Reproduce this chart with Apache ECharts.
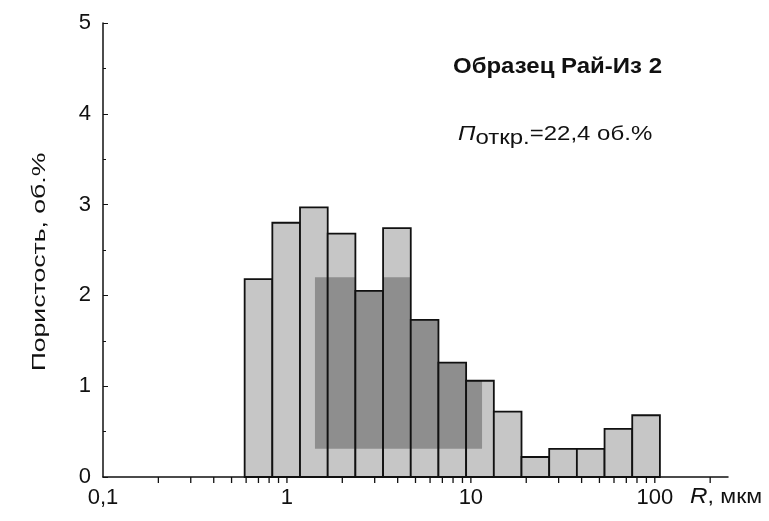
<!DOCTYPE html>
<html>
<head>
<meta charset="utf-8">
<script src="https://cdn.jsdelivr.net/npm/echarts@6/dist/echarts.min.js"></script>
<style>
  html, body { margin: 0; padding: 0; background: #fff; }
  #chart { width: 769px; height: 521px; }
</style>
</head>
<body>
<div id="chart"></div>
<script>
// границы классов по радиусу пор, мкм (лог. шкала)
const binLeft  = [0.589, 0.833, 1.178, 1.666, 2.356, 3.332, 4.712, 6.664, 9.424, 13.33, 18.85, 26.66, 37.70, 53.31, 75.39];
const binRight = [0.833, 1.178, 1.666, 2.356, 3.332, 4.712, 6.664, 9.424, 13.33, 18.85, 26.66, 37.70, 53.31, 75.39, 106.6];
// пористость, об.%
const porosity = [2.18, 2.80, 2.97, 2.68, 2.05, 2.74, 1.73, 1.26, 1.06, 0.72, 0.22, 0.31, 0.31, 0.53, 0.68];

// подписи и засечки оси X
const xMajorTicks = [0.1, 1, 10, 100];
const xMinorTicks = [0.2, 0.3, 0.4, 0.5, 0.6, 0.7, 0.8, 0.9,
                     2, 3, 4, 5, 6, 7, 8, 9,
                     20, 30, 40, 50, 60, 70, 80, 90, 200];

const FONT = 'Liberation Sans';
const lightFill = '#c6c6c6';
const darkFill = '#8e8e8e';
// тёмная зона растра на исходном рисунке
const darkZone = { x0: 1.42, x1: 11.5, y0: 0.31, y1: 2.2 };

const chart = echarts.init(document.getElementById('chart'));

const barData = binLeft.map((l, i) => [l, binRight[i], porosity[i]]);
const tickData = xMajorTicks.slice(1).map(v => [v, 0]).concat(xMinorTicks.map(v => [v, 0]));

const option = {
  backgroundColor: '#fff',
  animation: false,
  grid: { left: 103, right: 41, top: 23, bottom: 44 },
  xAxis: {
    type: 'log',
    logBase: 10,
    min: 0.1,
    max: 250,
    axisLine: { lineStyle: { color: '#111', width: 1.5 } },
    axisTick: { show: false },
    splitLine: { show: false },
    axisLabel: {
      color: '#111',
      fontSize: 22,
      fontFamily: FONT,
      margin: 10,
      showMaxLabel: false,
      formatter: v => xMajorTicks.some(t => Math.abs(t - v) < 1e-9) ? String(v).replace('.', ',') : ''
    }
  },
  yAxis: {
    type: 'value',
    min: 0,
    max: 5,
    interval: 1,
    axisLine: { show: true, lineStyle: { color: '#111', width: 1.5 } },
    axisTick: { show: true, inside: true, length: 5, lineStyle: { color: '#111' } },
    minorTick: { show: true, splitNumber: 2, length: 3, lineStyle: { color: '#111' } },
    splitLine: { show: false },
    axisLabel: { color: '#111', fontSize: 22, fontFamily: FONT, margin: 12 }
  },
  series: [
    {
      type: 'custom',
      data: barData,
      encode: { x: [0, 1], y: 2 },
      renderItem: (params, api) => {
        const x0 = api.value(0), x1 = api.value(1), v = api.value(2);
        const p0 = api.coord([x0, 0]);
        const p1 = api.coord([x1, v]);
        const children = [{
          type: 'rect',
          shape: { x: p0[0], y: p1[1], width: p1[0] - p0[0], height: p0[1] - p1[1] },
          style: { fill: lightFill, stroke: 'none' }
        }];
        // пересечение столбца с тёмной зоной
        const zx0 = Math.max(x0, darkZone.x0), zx1 = Math.min(x1, darkZone.x1);
        const zy1 = Math.min(v, darkZone.y1);
        if (zx1 > zx0 && zy1 > darkZone.y0) {
          const a = api.coord([zx0, darkZone.y0]);
          const b = api.coord([zx1, zy1]);
          children.push({
            type: 'rect',
            shape: { x: a[0], y: b[1], width: b[0] - a[0], height: a[1] - b[1] },
            style: { fill: darkFill, stroke: 'none' }
          });
        }
        children.push({
          type: 'rect',
          shape: { x: p0[0], y: p1[1], width: p1[0] - p0[0], height: p0[1] - p1[1] },
          style: { fill: 'none', stroke: '#111', lineWidth: 1.8 }
        });
        return { type: 'group', children };
      }
    },
    {
      type: 'custom',
      data: tickData,
      encode: { x: 0, y: 1 },
      clip: false,
      silent: true,
      renderItem: (params, api) => {
        const p = api.coord([api.value(0), 0]);
        return {
          type: 'line',
          shape: { x1: p[0], y1: p[1], x2: p[0], y2: p[1] + 6 },
          style: { stroke: '#111', lineWidth: 1.3 }
        };
      }
    }
  ],
  graphic: [
    {
      type: 'text',
      x: 40,
      y: 262,
      rotation: Math.PI / 2,
      scaleX: 1.4,
      style: {
        text: 'Пористость, об.%',
        fontSize: 19,
        fontFamily: FONT,
        fill: '#111',
        align: 'center',
        verticalAlign: 'middle'
      }
    },
    {
      type: 'text',
      x: 453,
      y: 56,
      scaleX: 1.09,
      style: { text: 'Образец Рай-Из 2', fontSize: 22, fontWeight: 'bold', fontFamily: FONT, fill: '#111' }
    },
    {
      type: 'text',
      x: 458,
      y: 122,
      scaleX: 1.2,
      style: {
        text: '{p|П}{s|откр.}{t|=22,4 об.%}',
        fontFamily: FONT,
        fill: '#111',
        rich: {
          p: { fontSize: 20, fontStyle: 'italic', fontFamily: FONT, lineHeight: 24, verticalAlign: 'middle' },
          s: { fontSize: 20, fontFamily: FONT, lineHeight: 24, verticalAlign: 'middle', padding: [9, 0, 0, 0] },
          t: { fontSize: 20, fontFamily: FONT, lineHeight: 24, verticalAlign: 'middle' }
        }
      }
    },
    {
      type: 'text',
      x: 690,
      y: 486,
      scaleX: 1.1,
      style: {
        text: '{r|R}{u|, мкм}',
        fill: '#111',
        rich: {
          r: { fontSize: 22, fontStyle: 'italic', fontFamily: FONT },
          u: { fontSize: 21, fontFamily: FONT }
        }
      }
    }
  ]
};

chart.setOption(option);
</script>
</body>
</html>
